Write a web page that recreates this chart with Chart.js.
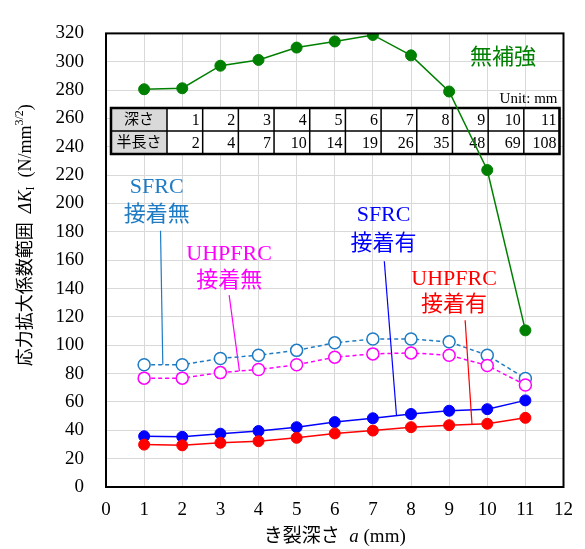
<!DOCTYPE html>
<html>
<head>
<meta charset="utf-8">
<script src="https://cdn.jsdelivr.net/npm/chart.js@4/dist/chart.umd.min.js"></script>
<style>
  html, body { margin: 0; padding: 0; background: #fff; }
</style>
</head>
<body>
<canvas id="chart" width="585" height="549"></canvas>
<script>
// crack depth a (mm) and half length (mm)
const depth = [1, 2, 3, 4, 5, 6, 7, 8, 9, 10, 11];
const halfLength = [2, 4, 7, 10, 14, 19, 26, 35, 48, 69, 108];

// stress intensity factor range ΔK_I (N/mm^3/2)
const noReinf      = [280.6, 281.3, 297.2, 301.3, 310.0, 314.3, 318.9, 304.5, 279.0, 223.6, 110.5];
const sfrcNoBond   = [86.2, 86.2, 90.7, 93.0, 96.4, 101.7, 104.4, 104.4, 102.4, 93.0, 76.6];
const uhpfrcNoBond = [76.8, 76.8, 80.7, 82.9, 86.2, 91.6, 93.9, 94.6, 93.0, 85.7, 72.0];
const sfrcBond     = [35.8, 35.4, 37.6, 39.5, 42.2, 45.8, 48.5, 51.5, 53.8, 54.9, 61.1];
const uhpfrcBond   = [29.9, 29.4, 31.2, 32.3, 34.7, 37.8, 39.8, 42.2, 43.6, 44.6, 48.8];

const tableRowLabels = ['深さ', '半長さ'];
const unitLabel = 'Unit: mm';

const SERIF = '"Liberation Serif", "Noto Sans CJK JP", serif';
const C_GREEN = '#008000', C_SKY = '#1f7cc4', C_MAG = '#ff00ff', C_BLUE = '#0000ff', C_RED = '#ff0000';

const pts = arr => depth.map((d, i) => ({ x: d, y: arr[i] }));

function interp(arr, x) {
  const i = Math.min(Math.floor(x) - 1, depth.length - 2);
  const t = x - depth[i];
  return arr[i] + (arr[i + 1] - arr[i]) * t;
}

// label boxes, in data units
const notes = [
  { lines: ['SFRC', '接着無'], color: C_SKY, x: 1.33, y: [211.3, 191.5], from: [1.43, 180.7], toX: 1.49, series: sfrcNoBond },
  { lines: ['UHPFRC', '接着無'], color: C_MAG, x: 3.23, y: [164.1, 145.0], from: [3.23, 135.4], toX: 3.5, series: uhpfrcNoBond },
  { lines: ['SFRC', '接着有'], color: C_BLUE, x: 7.28, y: [191.5, 171.6], from: [7.30, 159.3], toX: 7.62, series: sfrcBond },
  { lines: ['UHPFRC', '接着有'], color: C_RED, x: 9.13, y: [146.3, 127.9], from: [9.42, 117.6], toX: 9.6, series: uhpfrcBond },
  { lines: ['無補強'], color: C_GREEN, x: 10.41, y: [302.2] }
];

function drawRuns(ctx, runs, cx, cy) {
  let total = 0;
  runs.forEach(r => { ctx.font = r.font; r.w = ctx.measureText(r.text).width; total += r.w; });
  let x = cx - total / 2;
  ctx.textAlign = 'left';
  ctx.textBaseline = 'middle';
  runs.forEach(r => { ctx.font = r.font; ctx.fillText(r.text, x, cy + (r.dy || 0)); x += r.w; });
}

const extras = {
  id: 'extras',
  beforeDatasetsDraw(chart) {
    const ctx = chart.ctx, a = chart.chartArea;
    // small data table
    const left = a.left + 5, right = a.right - 4, top = 108, mid = 131, bottom = 154;
    const headW = 56, colW = (right - left - headW) / depth.length;
    ctx.save();
    ctx.fillStyle = '#fff';
    ctx.fillRect(left, top, right - left, bottom - top);
    ctx.fillStyle = '#d9d9d9';
    ctx.fillRect(left, top, headW, bottom - top);
    ctx.strokeStyle = '#000';
    ctx.lineWidth = 1.5;
    ctx.beginPath();
    ctx.moveTo(left, mid); ctx.lineTo(right, mid);
    for (let i = 0; i <= depth.length; i++) {
      const x = left + headW + i * colW;
      ctx.moveTo(x, top); ctx.lineTo(x, bottom);
    }
    ctx.stroke();
    ctx.lineWidth = 2.5;
    ctx.strokeRect(left, top, right - left, bottom - top);
    ctx.fillStyle = '#000';
    ctx.font = '15px ' + SERIF;
    ctx.textBaseline = 'middle';
    ctx.textAlign = 'center';
    ctx.fillText(tableRowLabels[0], left + headW / 2, (top + mid) / 2 + 1);
    ctx.fillText(tableRowLabels[1], left + headW / 2, (mid + bottom) / 2 + 1);
    ctx.font = '16px ' + SERIF;
    ctx.textAlign = 'right';
    depth.forEach((d, i) => {
      const xr = left + headW + (i + 1) * colW - 3;
      ctx.fillText(String(d), xr, (top + mid) / 2 + 1);
      ctx.fillText(String(halfLength[i]), xr, (mid + bottom) / 2 + 1);
    });
    ctx.font = '15px ' + SERIF;
    ctx.fillText(unitLabel, right - 2, 99);
    ctx.restore();
  },
  afterDatasetsDraw(chart) {
    const ctx = chart.ctx, xs = chart.scales.x, ys = chart.scales.y;
    ctx.save();
    notes.forEach(n => {
      ctx.fillStyle = n.color;
      ctx.font = '22px ' + SERIF;
      ctx.textAlign = 'center';
      ctx.textBaseline = 'middle';
      n.lines.forEach((t, i) => ctx.fillText(t, xs.getPixelForValue(n.x), ys.getPixelForValue(n.y[i])));
      if (n.from) {
        ctx.strokeStyle = n.color;
        ctx.lineWidth = 1.2;
        ctx.beginPath();
        ctx.moveTo(xs.getPixelForValue(n.from[0]), ys.getPixelForValue(n.from[1]));
        ctx.lineTo(xs.getPixelForValue(n.toX), ys.getPixelForValue(interp(n.series, n.toX)));
        ctx.stroke();
      }
    });
    ctx.restore();
  },
  afterDraw(chart) {
    const ctx = chart.ctx, a = chart.chartArea;
    ctx.save();
    ctx.strokeStyle = '#000';
    ctx.lineWidth = 2;
    ctx.strokeRect(a.left, a.top, a.right - a.left, a.bottom - a.top);
    ctx.fillStyle = '#000';
    // y axis title
    ctx.translate(26, (a.top + a.bottom) / 2 - 25);
    ctx.rotate(-Math.PI / 2);
    drawRuns(ctx, [
      { text: '応力拡大係数範囲  ', font: '18px ' + SERIF },
      { text: 'ΔK', font: 'italic 18px ' + SERIF },
      { text: 'I', font: '12px ' + SERIF, dy: 5 },
      { text: '  (N/mm', font: '18px ' + SERIF },
      { text: '3/2', font: '12px ' + SERIF, dy: -6 },
      { text: ')', font: '18px ' + SERIF }
    ], 0, 0);
    ctx.restore();
    ctx.save();
    ctx.fillStyle = '#000';
    drawRuns(ctx, [
      { text: 'き裂深さ  ', font: '19px ' + SERIF },
      { text: 'a', font: 'italic 19px ' + SERIF },
      { text: ' (mm)', font: '19px ' + SERIF }
    ], (a.left + a.right) / 2, 537);
    ctx.restore();
  }
};

const tickFont = { family: SERIF, size: 19 };

new Chart(document.getElementById('chart'), {
  type: 'line',
  data: {
    datasets: [
      { label: 'UHPFRC 接着有', data: pts(uhpfrcBond), borderColor: C_RED, backgroundColor: C_RED,
        borderWidth: 1.5, pointRadius: 5.5, pointBorderWidth: 1, pointBackgroundColor: C_RED },
      { label: 'SFRC 接着有', data: pts(sfrcBond), borderColor: C_BLUE, backgroundColor: C_BLUE,
        borderWidth: 1.5, pointRadius: 5.5, pointBorderWidth: 1, pointBackgroundColor: C_BLUE },
      { label: 'UHPFRC 接着無', data: pts(uhpfrcNoBond), borderColor: C_MAG, borderDash: [4, 3],
        borderWidth: 1.5, pointRadius: 6, pointBorderWidth: 1.5, pointBackgroundColor: '#fff' },
      { label: 'SFRC 接着無', data: pts(sfrcNoBond), borderColor: C_SKY, borderDash: [4, 3],
        borderWidth: 1.5, pointRadius: 6, pointBorderWidth: 1.5, pointBackgroundColor: '#fff' },
      { label: '無補強', data: pts(noReinf), borderColor: C_GREEN, backgroundColor: C_GREEN,
        borderWidth: 1.5, pointRadius: 5.5, pointBorderWidth: 1, pointBackgroundColor: C_GREEN }
    ]
  },
  options: {
    responsive: false,
    animation: false,
    layout: { padding: { top: 19, right: 19, left: 0, bottom: 0 } },
    plugins: { legend: { display: false }, tooltip: { enabled: false } },
    scales: {
      x: {
        type: 'linear', min: 0, max: 12,
        ticks: { stepSize: 1, padding: 12, color: '#000', font: tickFont, maxRotation: 0 },
        grid: { color: '#d9d9d9', drawTicks: false },
        border: { display: false },
        afterFit(s) { s.height = 62; }
      },
      y: {
        min: 0, max: 320,
        ticks: { stepSize: 20, padding: 22, color: '#000', font: tickFont },
        grid: { color: '#d9d9d9', drawTicks: false },
        border: { display: false },
        afterFit(s) { s.width = 106; }
      }
    }
  },
  plugins: [extras]
});
</script>
</body>
</html>
